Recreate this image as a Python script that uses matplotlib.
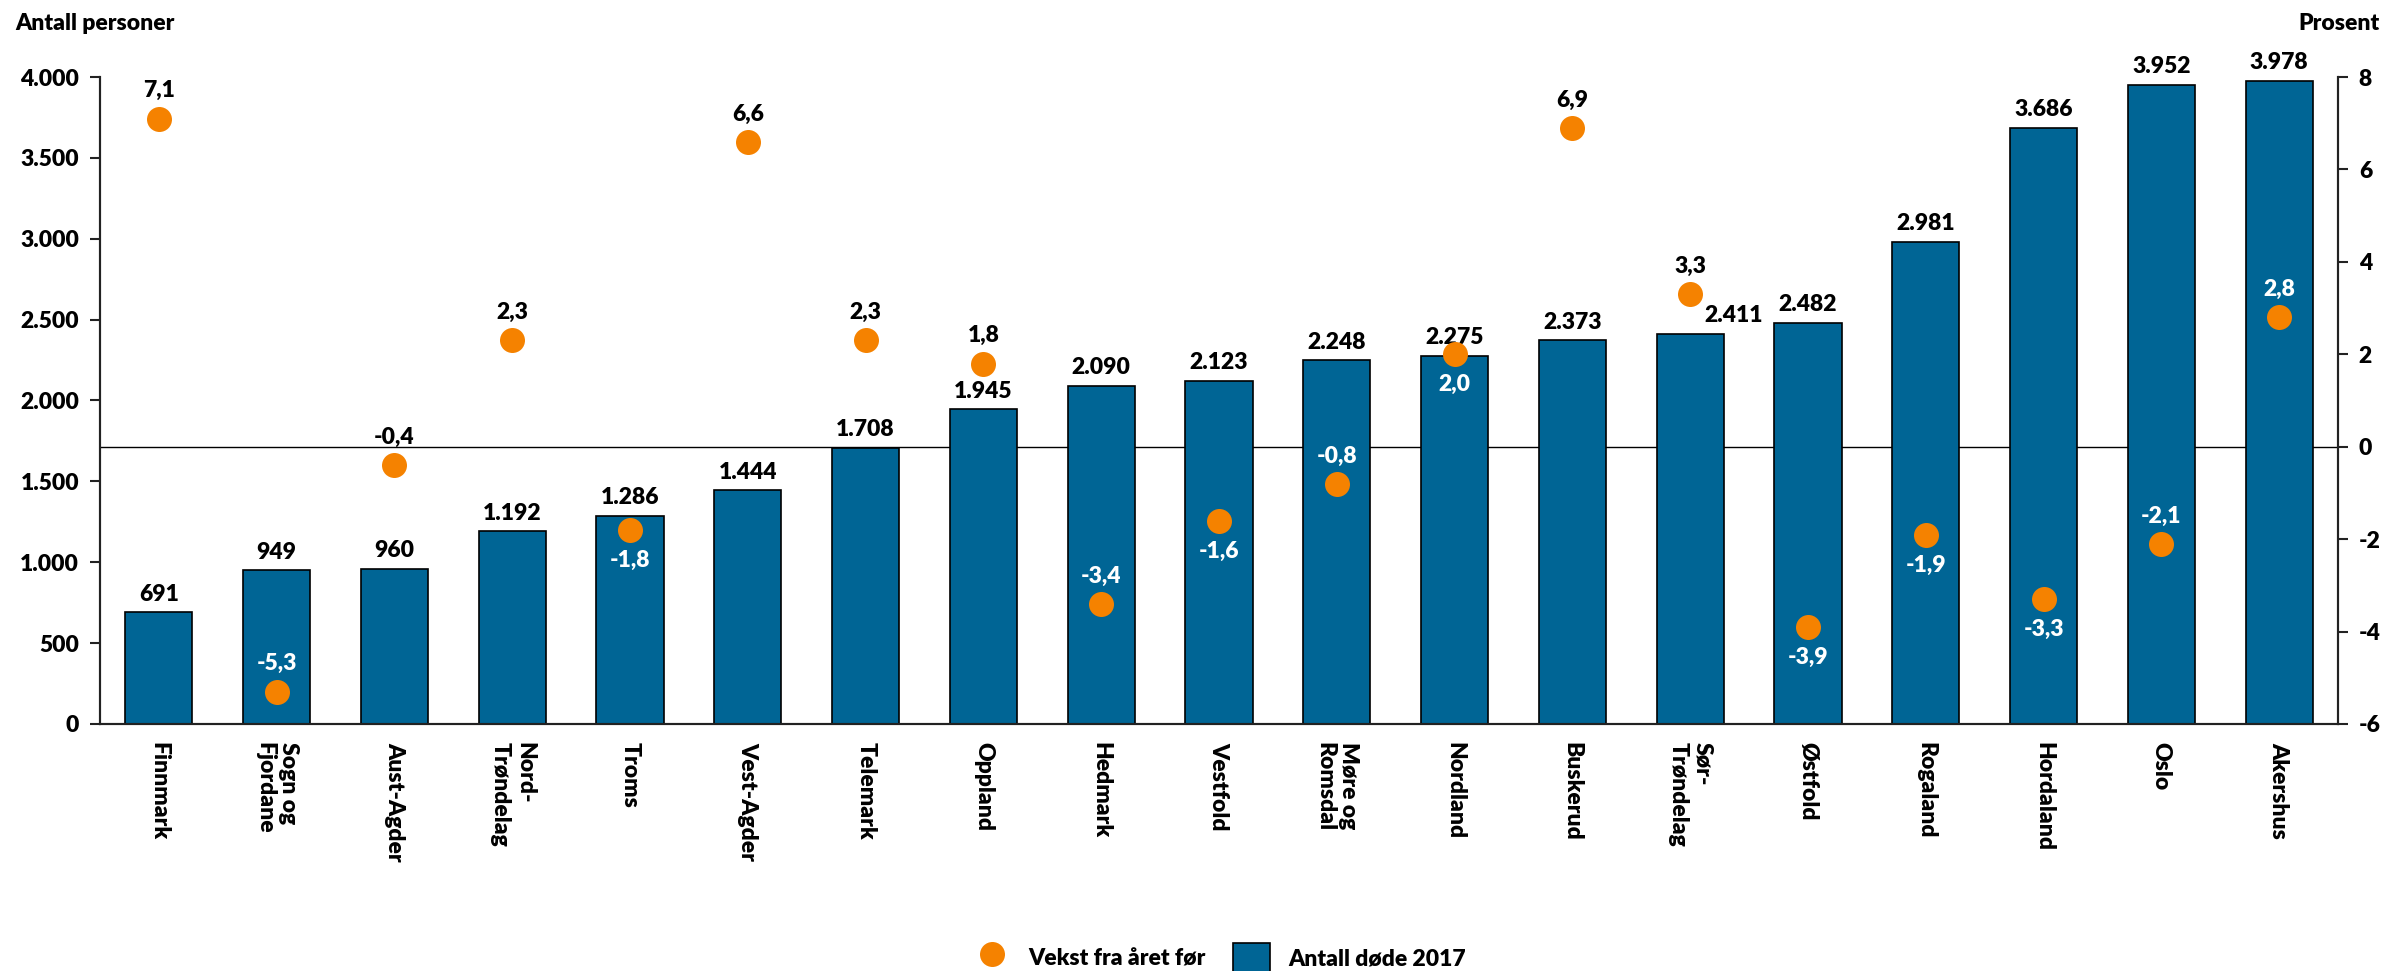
import matplotlib
matplotlib.use("Agg")
import matplotlib.pyplot as plt
from matplotlib.transforms import blended_transform_factory
from matplotlib.lines import Line2D
from matplotlib.patches import Patch

categories = ["Finnmark", "Sogn og\nFjordane", "Aust-Agder", "Nord-\nTrøndelag", "Troms",
              "Vest-Agder", "Telemark", "Oppland", "Hedmark", "Vestfold", "Møre og\nRomsdal",
              "Nordland", "Buskerud", "Sør-\nTrøndelag", "Østfold", "Rogaland", "Hordaland",
              "Oslo", "Akershus"]
deaths_2017 = [691, 949, 960, 1192, 1286, 1444, 1708, 1945, 2090, 2123, 2248, 2275,
               2373, 2411, 2482, 2981, 3686, 3952, 3978]
growth_pct = [7.1, -5.3, -0.4, 2.3, -1.8, 6.6, 2.3, 1.8, -3.4, -1.6, -0.8, 2.0,
              6.9, 3.3, -3.9, -1.9, -3.3, -2.1, 2.8]
left_ticks = [0, 500, 1000, 1500, 2000, 2500, 3000, 3500, 4000]
right_ticks = [-6, -4, -2, 0, 2, 4, 6, 8]

# label placement (style): +1 above point, -1 below point
growth_label_side = [1, 1, 1, 1, -1, 1, 1, 1, 1, -1, 1, -1, 1, 1, -1, -1, -1, 1, 1]
growth_label_white = [False, True, False, False, True, False, False, False, True, True, True, True,
                      False, False, True, True, True, True, True]
bar_label_dx = [0]*13 + [31] + [0]*5

BAR = "#006595"
ORANGE = "#F58200"
FONT = "Lato"
W = 'heavy'
plt.rcParams['font.family'] = [FONT, 'DejaVu Sans']
plt.rcParams['font.weight'] = W
FS = 16.5

fig = plt.figure(figsize=(23.87, 9.71), dpi=100)
ax = fig.add_axes([100/2387, 1-724/971, (2338-100)/2387, (724-77)/971])
ax2 = ax.twinx()

x = list(range(len(categories)))
ax.bar(x, deaths_2017, width=0.57, color=BAR, edgecolor="black", linewidth=1.2, zorder=2)
ax.set_xlim(-0.5, len(categories)-0.5)
ax.set_ylim(0, 4000)
ax2.set_ylim(-6, 8)

ax.set_yticks(left_ticks)
ax.set_yticklabels([f"{v:,}".replace(",", ".") for v in left_ticks], fontsize=FS, fontweight=W)
ax2.set_yticks(right_ticks)
ax2.set_yticklabels([str(v) for v in right_ticks], fontsize=FS, fontweight=W)

ax.set_xticks(x)
ax.set_xticklabels(categories, rotation=270, ha='center', va='top', multialignment='left',
                   fontsize=FS, fontweight=W)
ax.tick_params(axis='x', length=0, pad=13)
ax.tick_params(axis='y', length=7, width=1.5, pad=8, color='#222222')
ax2.tick_params(axis='y', length=7, width=1.5, pad=8, color='#222222')

for a in (ax, ax2):
    a.spines['top'].set_visible(False)
    for s in ('left', 'right', 'bottom'):
        a.spines[s].set_linewidth(1.5)
        a.spines[s].set_color('#222222')

# zero line for the percent axis, behind the bars
tr = blended_transform_factory(ax.transAxes, ax2.transData)
ax.plot([0, 1], [0, 0], transform=tr, color='black', linewidth=1.0, zorder=1)

# bar value labels
for xi, v, dx in zip(x, deaths_2017, bar_label_dx):
    ax.annotate(f"{v:,}".replace(",", "."), (xi, v), xytext=(dx, 13), textcoords='offset points',
                ha='center', va='center', fontsize=FS, fontweight=W, color='black', zorder=5)

# growth points
ax2.plot(x, growth_pct, linestyle='none', marker='o', markersize=18, color=ORANGE,
         markeredgewidth=0, zorder=4)
for xi, g, side, white in zip(x, growth_pct, growth_label_side, growth_label_white):
    dy = 20 if side > 0 else -22
    ax2.annotate(f"{g:.1f}".replace(".", ","), (xi, g), xytext=(0, dy), textcoords='offset points',
                 ha='center', va='center', fontsize=FS, fontweight=W,
                 color='white' if white else 'black', zorder=6)

fig.text(15/2387, 1-23/971, "Antall personer", ha='left', va='center', fontsize=FS, fontweight=W)
fig.text(2380/2387, 1-23/971, "Prosent", ha='right', va='center', fontsize=FS, fontweight=W)

handles = [Line2D([], [], linestyle='none', marker='o', markersize=18, color=ORANGE, markeredgewidth=0),
           Patch(facecolor=BAR, edgecolor='black', linewidth=1.2)]
leg = fig.legend(handles, ["Vekst fra året før", "Antall døde 2017"], loc='center',
                 bbox_to_anchor=(0.511, 1-958/971), ncol=2, frameon=False,
                 prop={'family': FONT, 'weight': W, 'size': FS},
                 handlelength=1.6, handleheight=1.6, columnspacing=1.2, handletextpad=0.8)

fig.savefig("out.png", dpi=100)
